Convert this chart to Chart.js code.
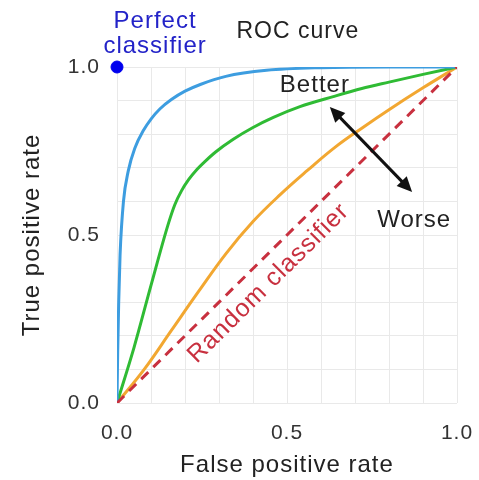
<!DOCTYPE html>
<html>
<head>
<meta charset="utf-8">
<script src="https://cdn.jsdelivr.net/npm/chart.js@4/dist/chart.umd.min.js"></script>
<style>
  html, body { margin: 0; background: #fff; }
</style>
</head>
<body>
<canvas id="roc" width="479" height="480"></canvas>
<script>
// ─── DATA ───
const blueFpr  = [0, 0.002, 0.005, 0.009, 0.019, 0.033, 0.053, 0.077, 0.1, 0.126, 0.16, 0.2, 0.245, 0.32, 0.44, 0.6, 0.8, 1];
const blueTpr  = [0, 0.15, 0.3, 0.44, 0.6, 0.69, 0.76, 0.81, 0.845, 0.875, 0.903, 0.928, 0.948, 0.972, 0.99, 0.998, 1, 1];

const greenFpr = [0, 0.05, 0.1, 0.15, 0.17, 0.19, 0.21, 0.235, 0.26, 0.29, 0.342, 0.4, 0.46, 0.538, 0.636, 0.72, 0.8, 0.9, 1];
const greenTpr = [0, 0.165, 0.35, 0.53, 0.59, 0.632, 0.664, 0.695, 0.72, 0.747, 0.785, 0.82, 0.85, 0.882, 0.912, 0.936, 0.955, 0.978, 1];

const orangeFpr = [0, 0.08, 0.16, 0.24, 0.32, 0.4, 0.48, 0.56, 0.64, 0.72, 0.8, 0.9, 1];
const orangeTpr = [0, 0.1, 0.216, 0.332, 0.444, 0.54, 0.62, 0.692, 0.76, 0.818, 0.873, 0.938, 1];

const randomFpr = [0, 1];
const randomTpr = [0, 1];

const perfectFpr = [0];
const perfectTpr = [1];

const tickLabels = [0, 0.5, 1];

const pts = (xs, ys) => xs.map((x, i) => ({ x, y: ys[i] }));

const FONT = '"Liberation Sans", Arial, sans-serif';

// ─── ANNOTATIONS (texts + arrow) ───
const annotations = {
  id: 'annotations',
  beforeDraw(chart) {
    chart.ctx.letterSpacing = '1px';
  },
  afterDatasetsDraw(chart) {
    const { ctx, scales: { x, y } } = chart;
    const px = v => x.getPixelForValue(v);
    const py = v => y.getPixelForValue(v);

    ctx.save();
    ctx.letterSpacing = '1px';
    ctx.textAlign = 'center';
    ctx.textBaseline = 'alphabetic';
    ctx.font = '24px ' + FONT;

    ctx.fillStyle = '#2323c8';
    ctx.fillText('Perfect', px(0.112), py(1.116));
    ctx.fillText('classifier', px(0.112), py(1.042));

    ctx.fillStyle = '#222';
    ctx.font = '23px ' + FONT;
    ctx.fillText('ROC curve', px(0.532), py(1.086));
    ctx.font = '24px ' + FONT;
    ctx.fillText('Better', px(0.582), py(0.926));
    ctx.fillText('Worse', px(0.874), py(0.524));

    // "Random classifier" along the diagonal
    const ang = Math.atan2(py(1) - py(0), px(1) - px(0));
    ctx.save();
    ctx.translate(px(0.446), py(0.356));
    ctx.rotate(ang);
    ctx.textBaseline = 'middle';
    ctx.font = '25px ' + FONT;
    ctx.fillStyle = '#c8303f';
    ctx.fillText('Random classifier', 0, 0);
    ctx.restore();

    // double-headed arrow
    const x1 = px(0.626), y1 = py(0.881), x2 = px(0.868), y2 = py(0.628);
    const a = Math.atan2(y2 - y1, x2 - x1);
    const hl = 15, hw = 7;
    ctx.strokeStyle = '#111';
    ctx.fillStyle = '#111';
    ctx.lineWidth = 3;
    ctx.beginPath();
    ctx.moveTo(x1 + Math.cos(a) * hl * 0.8, y1 + Math.sin(a) * hl * 0.8);
    ctx.lineTo(x2 - Math.cos(a) * hl * 0.8, y2 - Math.sin(a) * hl * 0.8);
    ctx.stroke();
    const head = (tx, ty, dir) => {
      const bx = tx - Math.cos(dir) * hl, by = ty - Math.sin(dir) * hl;
      ctx.beginPath();
      ctx.moveTo(tx, ty);
      ctx.lineTo(bx + Math.sin(dir) * hw, by - Math.cos(dir) * hw);
      ctx.lineTo(bx - Math.sin(dir) * hw, by + Math.cos(dir) * hw);
      ctx.closePath();
      ctx.fill();
    };
    head(x2, y2, a);
    head(x1, y1, a + Math.PI);
    ctx.restore();
  }
};

const lineDs = (label, data, color, extra) => ({
  label, data,
  borderColor: color,
  backgroundColor: color,
  borderWidth: 3,
  pointRadius: 0,
  showLine: true,
  fill: false,
  cubicInterpolationMode: 'monotone',
  ...extra
});

const tickCb = v => tickLabels.some(t => Math.abs(t - v) < 1e-6) ? v.toFixed(1) : '';

new Chart(document.getElementById('roc'), {
  type: 'scatter',
  data: {
    datasets: [
      {
        label: 'Perfect classifier',
        data: pts(perfectFpr, perfectTpr),
        backgroundColor: '#0000ee',
        borderColor: '#0000ee',
        pointRadius: 6,
        clip: false
      },
      lineDs('Random classifier', pts(randomFpr, randomTpr), '#c8303f', { borderDash: [10, 7], cubicInterpolationMode: 'default' }),
      lineDs('Blue', pts(blueFpr, blueTpr), '#3d9de0'),
      lineDs('Green', pts(greenFpr, greenTpr), '#2fbb34'),
      lineDs('Orange', pts(orangeFpr, orangeTpr), '#f2a731', { cubicInterpolationMode: 'default', tension: 0.4 })
    ]
  },
  options: {
    responsive: false,
    animation: false,
    layout: { padding: { left: 14, right: 22, top: 67, bottom: 0 } },
    plugins: { legend: { display: false }, tooltip: { enabled: false } },
    scales: {
      x: {
        type: 'linear', min: 0, max: 1,
        afterFit: s => { s.height = 77; s.paddingLeft = 0; s.paddingRight = 0; },
        grid: { color: '#e9e9e9', drawTicks: false },
        border: { display: false },
        ticks: { stepSize: 0.1, callback: tickCb, color: '#333', padding: 18, maxRotation: 0, autoSkip: false, font: { size: 21, family: FONT } },
        title: { display: true, text: 'False positive rate', color: '#222', padding: 0, font: { size: 24, family: FONT } }
      },
      y: {
        type: 'linear', min: 0, max: 1,
        afterFit: s => { s.width = 103; s.paddingTop = 0; s.paddingBottom = 0; },
        grid: { color: '#e9e9e9', drawTicks: false },
        border: { display: false },
        ticks: { stepSize: 0.1, callback: tickCb, color: '#333', padding: 17, autoSkip: false, font: { size: 21, family: FONT } },
        title: { display: true, text: 'True positive rate', color: '#222', padding: { top: 4, bottom: 0 }, font: { size: 24, family: FONT } }
      }
    }
  },
  plugins: [annotations]
});
</script>
</body>
</html>
